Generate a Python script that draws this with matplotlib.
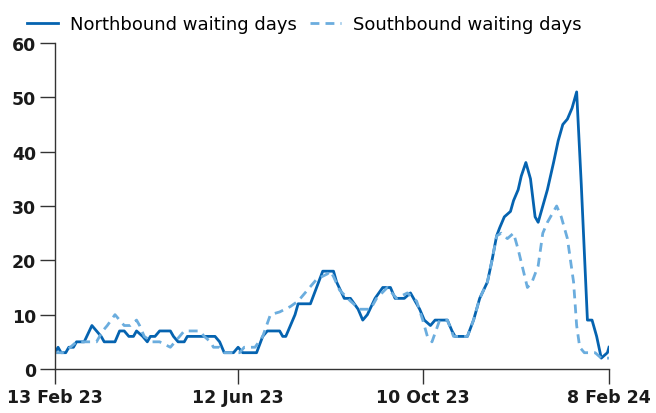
import pandas as pd
import matplotlib
matplotlib.use("Agg")
import matplotlib.pyplot as plt

start = pd.Timestamp("2023-02-13")

# days since 13 Feb 23
north_days = [0, 2, 4, 7, 9, 12, 14, 19, 24, 27, 30, 32, 39, 42, 45, 48, 51, 53, 57, 60,
              62, 65, 68, 75, 77, 80, 84, 86, 104, 107, 110, 116, 119, 122, 131, 135, 138,
              146, 148, 150, 156, 158, 166, 174, 181, 183, 188, 192, 197, 200, 203, 208,
              213, 218, 221, 227, 231, 237, 240, 244, 247, 255, 258, 260, 268, 272, 276,
              281, 284, 287, 289, 292, 296, 298, 301, 303, 306, 309, 312, 314, 316, 320,
              324, 327, 330, 333, 336, 339, 342, 346, 349, 352, 355, 359, 360]
north_vals = [3, 4, 3, 3, 4, 4, 5, 5, 8, 7, 6, 5, 5, 7, 7, 6, 6, 7, 6, 5,
              6, 6, 7, 7, 6, 5, 5, 6, 6, 5, 3, 3, 4, 3, 3, 6, 7,
              7, 6, 6, 10, 12, 12, 18, 18, 16, 13, 13, 11, 9, 10, 13,
              15, 15, 13, 13, 14, 11, 9, 8, 9, 9, 7, 6, 6, 9, 13,
              16, 20, 24.5, 26, 28, 29, 31, 33, 35.5, 38, 35, 28, 27, 29, 33,
              38, 42, 45, 46, 48, 51, 34, 9, 9, 6, 2, 3, 4]

south_days = [0, 5, 10, 14, 27, 31, 34, 39, 42, 45, 49, 53, 55, 58, 63, 68, 75, 78, 81,
              84, 94, 97, 101, 103, 107, 110, 120, 123, 130, 135, 140, 146, 153, 158,
              164, 170, 177, 179, 181, 185, 192, 198, 205, 209, 216, 222, 229, 235, 239,
              242, 245, 250, 255, 259, 268, 272, 276, 281, 284, 287, 290, 294, 298, 301,
              304, 307, 310, 314, 317, 320, 326, 329, 333, 337, 339, 341, 344, 351, 355, 360]
south_vals = [3, 3, 4, 5, 5, 7, 8, 10, 9, 8, 8, 9, 8, 6, 5, 5, 4, 5, 6,
              7, 7, 6, 5, 4, 4, 3, 3, 4, 4, 6, 10, 10.5, 11.5, 12.5,
              14.5, 16.5, 17.5, 18, 17, 14.5, 12.5, 11, 11, 13, 15, 13, 14, 12.5, 9,
              6, 5, 9, 9, 6, 6, 9, 13, 16, 20, 24.5, 25, 24, 25, 22,
              18.5, 15, 16, 19, 25, 27, 30, 28, 24, 16, 8, 4, 3, 3, 2, 2]

tick_dates = ["2023-02-13", "2023-06-12", "2023-10-10", "2024-02-08"]
tick_labels = ["13 Feb 23", "12 Jun 23", "10 Oct 23", "8 Feb 24"]

north_x = start + pd.to_timedelta(north_days, unit="D")
south_x = start + pd.to_timedelta(south_days, unit="D")

plt.rcParams["font.family"] = "DejaVu Sans"

fig = plt.figure(figsize=(6.56, 4.14), dpi=100)
ax = fig.add_axes([0.0838, 0.1063, 0.8445, 0.7874])

ax.plot(north_x, north_vals, color="#0563b0", lw=2.0, label="Northbound waiting days")
ax.plot(south_x, south_vals, color="#6badde", lw=2.0, ls=(0, (3.2, 2.2)),
        label="Southbound waiting days")

ax.set_ylim(0, 60)
ax.set_yticks(range(0, 61, 10))
ax.set_xlim(pd.Timestamp(tick_dates[0]), pd.Timestamp(tick_dates[-1]))
ax.set_xticks(pd.to_datetime(tick_dates))
ax.set_xticklabels(tick_labels)

for s in ["top", "right"]:
    ax.spines[s].set_visible(False)
for s in ["left", "bottom"]:
    ax.spines[s].set_color("#333333")
    ax.spines[s].set_linewidth(1.0)
ax.tick_params(length=10.5, width=1.0, color="#333333", pad=3, labelsize=12.5)
for lab in ax.get_xticklabels() + ax.get_yticklabels():
    lab.set_fontweight("bold")
    lab.set_color("#1a1a1a")

fig.legend(loc="center left", bbox_to_anchor=(0.041, 0.94), ncol=2, frameon=False,
           fontsize=13, handlelength=1.72, handletextpad=0.67, columnspacing=0.72,
           borderpad=0, borderaxespad=0)

fig.savefig("out.png", dpi=100)
